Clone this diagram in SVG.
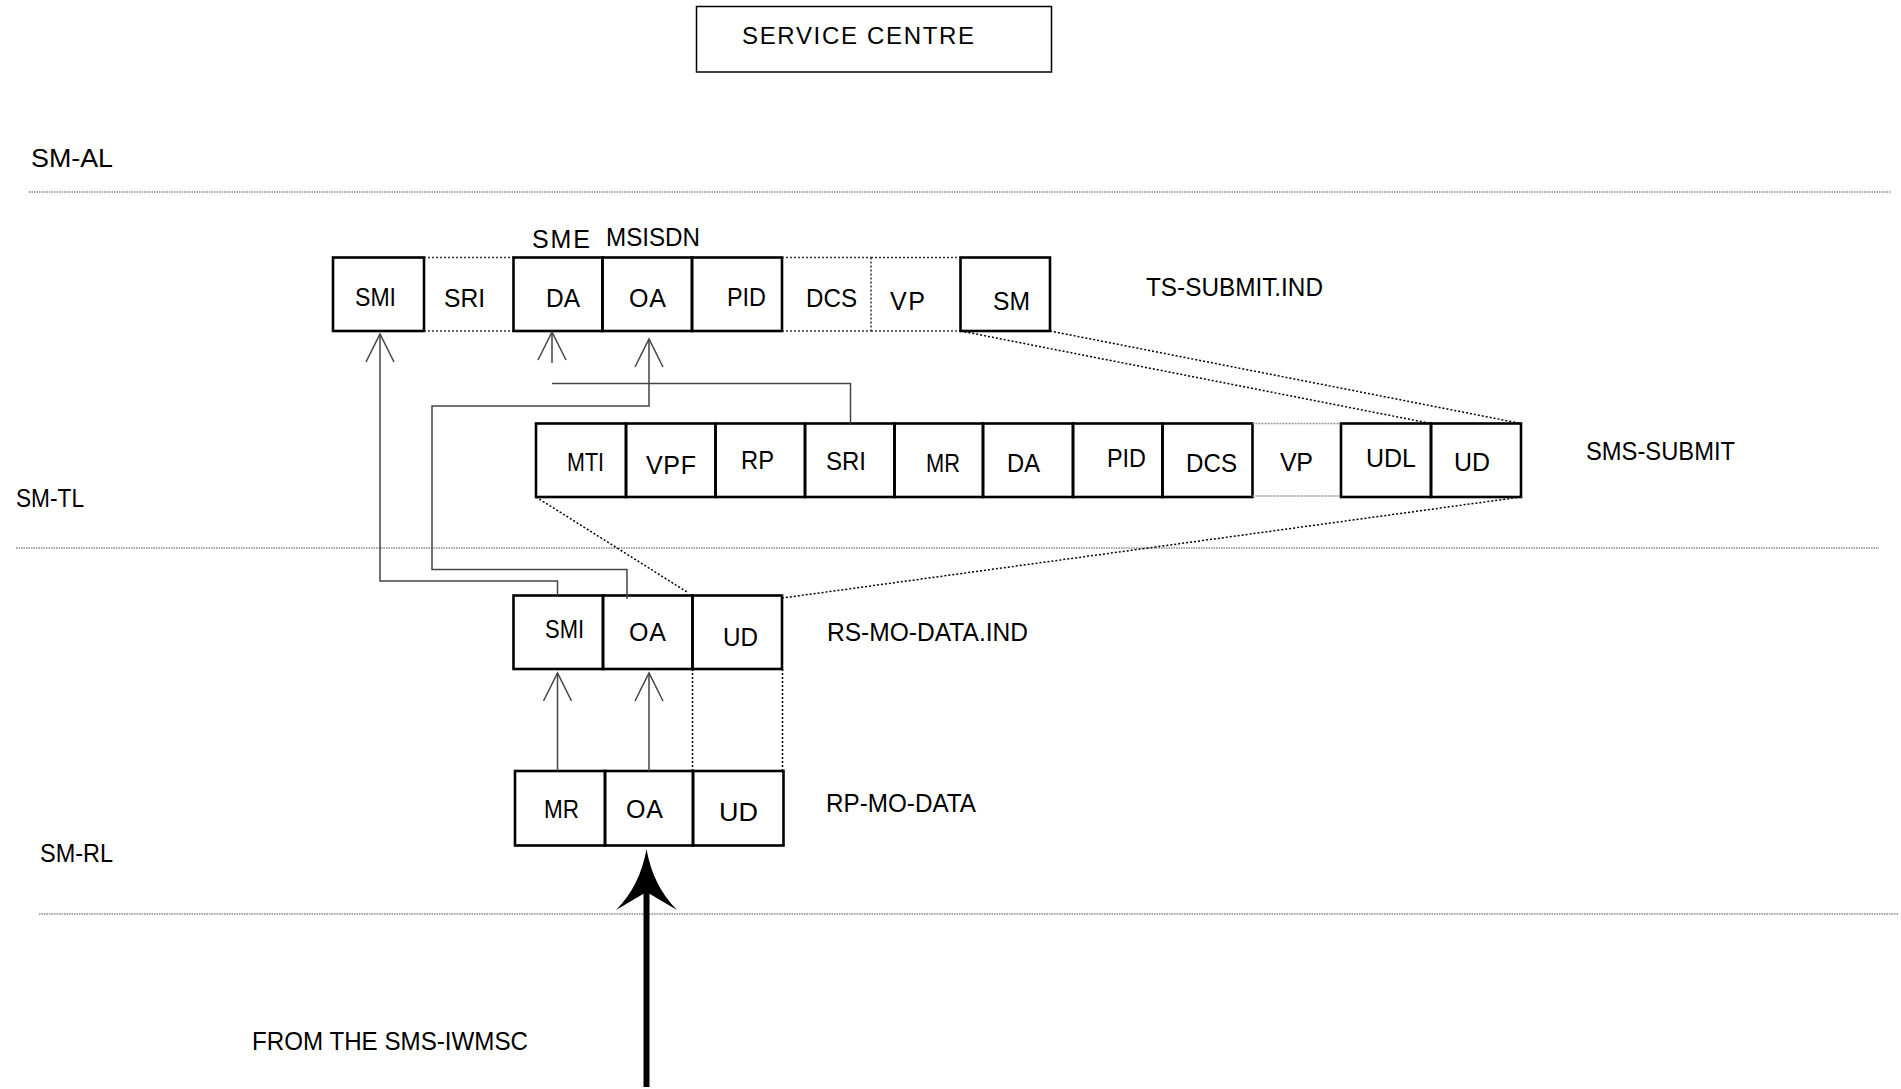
<svg xmlns="http://www.w3.org/2000/svg" xmlns:xlink="http://www.w3.org/1999/xlink" width="1901" height="1089" viewBox="0 0 1901 1089">
<style>
  text { font-family: "Liberation Sans", Arial, sans-serif; font-size: 25px; fill: #000; }
  .sc { font-size: 24px; }
  .box { fill: none; stroke: #000; stroke-width: 2.6; }
  .dotb { fill: none; stroke: #333; stroke-width: 1.5; stroke-dasharray: 2 2; }
  .dotg { fill: none; stroke: #999; stroke-width: 1.5; stroke-dasharray: 2 1; }
  .layer { fill: none; stroke: #888; stroke-width: 1.6; stroke-dasharray: 1.5 1; }
  .conn { fill: none; stroke: #444; stroke-width: 1.5; }
  .diag { fill: none; stroke: #000; stroke-width: 1.5; stroke-dasharray: 2 2; }
  .head { fill: none; stroke: #444; stroke-width: 1.5; }
</style>
<defs>
  <path id="vhead" d="M-14,28 L0,0 L14,28"/>
</defs>
<rect x="0" y="0" width="1901" height="1089" fill="#fff"/>

<!-- layer lines and labels -->
<g id="layers">
  <line class="layer" x1="29" y1="192" x2="1891" y2="192"/>
  <line class="layer" x1="16" y1="548" x2="1879" y2="548"/>
  <line class="layer" x1="39" y1="914" x2="1899" y2="914"/>
  <text x="31" y="167" textLength="82" lengthAdjust="spacingAndGlyphs">SM-AL</text>
  <text x="16" y="507" textLength="68" lengthAdjust="spacingAndGlyphs">SM-TL</text>
  <text x="40" y="862" textLength="73" lengthAdjust="spacingAndGlyphs">SM-RL</text>
  <text x="252" y="1050" textLength="276" lengthAdjust="spacingAndGlyphs">FROM THE SMS-IWMSC</text>
</g>

<g id="service-centre">
  <rect x="696.5" y="6.5" width="355" height="65.5" fill="none" stroke="#000" stroke-width="1.5"/>
  <text class="sc" x="742" y="44" textLength="232" lengthAdjust="spacing">SERVICE CENTRE</text>
</g>

<!-- TS-SUBMIT.IND row -->
<g id="ts-submit-ind">
  <g id="ts-smi"><rect class="box" x="333" y="257.5" width="91" height="73.5"/><text x="355" y="306" textLength="41" lengthAdjust="spacingAndGlyphs">SMI</text></g>
  <g id="ts-sri"><line class="dotb" x1="424" y1="257.5" x2="513.5" y2="257.5"/><line class="dotb" x1="424" y1="331" x2="513.5" y2="331"/><text x="444" y="307" textLength="41" lengthAdjust="spacingAndGlyphs">SRI</text></g>
  <g id="ts-da"><rect class="box" x="513.5" y="257.5" width="89" height="73.5"/><text x="546" y="306.5" textLength="34" lengthAdjust="spacingAndGlyphs">DA</text></g>
  <g id="ts-oa"><rect class="box" x="602.5" y="257.5" width="89.5" height="73.5"/><text x="629" y="307" textLength="37" lengthAdjust="spacing">OA</text></g>
  <g id="ts-pid"><rect class="box" x="692" y="257.5" width="90" height="73.5"/><text x="727" y="306" textLength="39" lengthAdjust="spacingAndGlyphs">PID</text></g>
  <g id="ts-dcs"><line class="dotb" x1="782" y1="257.5" x2="871" y2="257.5"/><line class="dotb" x1="782" y1="331" x2="871" y2="331"/><text x="806" y="307" textLength="51" lengthAdjust="spacingAndGlyphs">DCS</text></g>
  <g id="ts-vp"><line class="dotb" x1="871" y1="257.5" x2="871" y2="331"/><line class="dotb" x1="871" y1="257.5" x2="960.5" y2="257.5"/><line class="dotb" x1="871" y1="331" x2="960.5" y2="331"/><text x="890" y="310" textLength="35" lengthAdjust="spacing">VP</text></g>
  <g id="ts-sm"><rect class="box" x="960.5" y="257.5" width="89.5" height="73.5"/><text x="993" y="310" textLength="37" lengthAdjust="spacingAndGlyphs">SM</text></g>
  <text x="532" y="248" textLength="58" lengthAdjust="spacing">SME</text>
  <text x="606" y="246" textLength="94" lengthAdjust="spacingAndGlyphs">MSISDN</text>
  <text x="1146" y="296" textLength="177" lengthAdjust="spacingAndGlyphs">TS-SUBMIT.IND</text>
</g>

<!-- SMS-SUBMIT row -->
<g id="sms-submit">
  <g id="ss-mti"><rect class="box" x="536" y="423.5" width="90" height="73.5"/><text x="567" y="471" textLength="37" lengthAdjust="spacingAndGlyphs">MTI</text></g>
  <g id="ss-vpf"><rect class="box" x="626" y="423.5" width="89.5" height="73.5"/><text x="646" y="474" textLength="50" lengthAdjust="spacing">VPF</text></g>
  <g id="ss-rp"><rect class="box" x="715.5" y="423.5" width="89.5" height="73.5"/><text x="741" y="469" textLength="33" lengthAdjust="spacingAndGlyphs">RP</text></g>
  <g id="ss-sri"><rect class="box" x="805" y="423.5" width="89.5" height="73.5"/><text x="826" y="470" textLength="40" lengthAdjust="spacingAndGlyphs">SRI</text></g>
  <g id="ss-mr"><rect class="box" x="894.5" y="423.5" width="88.5" height="73.5"/><text x="926" y="472" textLength="34" lengthAdjust="spacingAndGlyphs">MR</text></g>
  <g id="ss-da"><rect class="box" x="983" y="423.5" width="90" height="73.5"/><text x="1007" y="472" textLength="33" lengthAdjust="spacingAndGlyphs">DA</text></g>
  <g id="ss-pid"><rect class="box" x="1073" y="423.5" width="89.5" height="73.5"/><text x="1107" y="467" textLength="39" lengthAdjust="spacingAndGlyphs">PID</text></g>
  <g id="ss-dcs"><rect class="box" x="1162.5" y="423.5" width="90" height="73.5"/><text x="1186" y="472" textLength="51" lengthAdjust="spacingAndGlyphs">DCS</text></g>
  <g id="ss-vp"><line class="dotg" x1="1252.5" y1="423.5" x2="1341" y2="423.5"/><line class="dotg" x1="1252.5" y1="496" x2="1341" y2="496"/><text x="1280" y="471" textLength="33" lengthAdjust="spacing">VP</text></g>
  <g id="ss-udl"><rect class="box" x="1341" y="423.5" width="90" height="73.5"/><text x="1366" y="467" textLength="50" lengthAdjust="spacingAndGlyphs">UDL</text></g>
  <g id="ss-ud"><rect class="box" x="1431" y="423.5" width="90" height="73.5"/><text x="1454" y="471" textLength="36" lengthAdjust="spacingAndGlyphs">UD</text></g>
  <text x="1586" y="460" textLength="149" lengthAdjust="spacingAndGlyphs">SMS-SUBMIT</text>
</g>

<!-- RS-MO-DATA.IND row -->
<g id="rs-mo-data-ind">
  <g id="rs-smi"><rect class="box" x="513.5" y="595.5" width="89.5" height="73.5"/><text x="545" y="638" textLength="39" lengthAdjust="spacingAndGlyphs">SMI</text></g>
  <g id="rs-oa"><rect class="box" x="603" y="595.5" width="89.5" height="73.5"/><text x="629" y="641" textLength="37" lengthAdjust="spacing">OA</text></g>
  <g id="rs-ud"><rect class="box" x="692.5" y="595.5" width="89.5" height="73.5"/><text x="723" y="646" textLength="35" lengthAdjust="spacingAndGlyphs">UD</text></g>
  <text x="827" y="641" textLength="201" lengthAdjust="spacingAndGlyphs">RS-MO-DATA.IND</text>
</g>

<!-- RP-MO-DATA row -->
<g id="rp-mo-data">
  <g id="rp-mr"><rect class="box" x="515" y="771" width="90" height="74.5"/><text x="544" y="818" textLength="35" lengthAdjust="spacingAndGlyphs">MR</text></g>
  <g id="rp-oa"><rect class="box" x="605" y="771" width="88" height="74.5"/><text x="626" y="818" textLength="37" lengthAdjust="spacing">OA</text></g>
  <g id="rp-ud"><rect class="box" x="693" y="771" width="90.5" height="74.5"/><text x="719" y="821" textLength="39" lengthAdjust="spacingAndGlyphs">UD</text></g>
  <text x="826" y="812" textLength="150" lengthAdjust="spacingAndGlyphs">RP-MO-DATA</text>
</g>

<!-- connectors -->
<g id="connectors">
  <!-- dotted mapping lines -->
  <line class="diag" x1="960.5" y1="331" x2="1431" y2="423.5"/>
  <line class="diag" x1="1050" y1="331" x2="1521" y2="423.5"/>
  <line class="diag" x1="536" y1="497" x2="687" y2="592"/>
  <line class="diag" x1="1521" y1="497" x2="782.5" y2="598"/>
  <line class="diag" x1="692.5" y1="669" x2="692.5" y2="771"/>
  <line class="diag" x1="782.5" y1="669" x2="782.5" y2="771"/>

  <!-- SMI: RS-MO-DATA.IND -> TS-SUBMIT.IND -->
  <polyline class="conn" points="557.5,595.5 557.5,581 380,581 380,334"/>
  <use xlink:href="#vhead" class="head" transform="translate(380,334)"/>
  <!-- OA: RS-MO-DATA.IND -> TS-SUBMIT.IND OA -->
  <polyline class="conn" points="627,599 627,569.5 432,569.5 432,406 649,406 649,339"/>
  <use xlink:href="#vhead" class="head" transform="translate(649,339)"/>
  <!-- SRI in SMS-SUBMIT -> DA in TS-SUBMIT.IND -->
  <polyline class="conn" points="850.5,423.5 850.5,383.5 552,383.5"/>
  <line class="conn" x1="552" y1="332" x2="552" y2="363"/>
  <use xlink:href="#vhead" class="head" transform="translate(552,332)"/>
  <!-- RP-MO-DATA -> RS-MO-DATA.IND -->
  <line class="conn" x1="557.5" y1="673" x2="557.5" y2="771"/>
  <use xlink:href="#vhead" class="head" transform="translate(557.5,673)"/>
  <line class="conn" x1="649" y1="673" x2="649" y2="771"/>
  <use xlink:href="#vhead" class="head" transform="translate(649,673)"/>

  <!-- big incoming arrow -->
  <rect x="643.5" y="885" width="6" height="202" fill="#000"/>
  <path d="M646.5,849 Q640,886 616,910 L646.5,892 L677,910 Q653,886 646.5,849 Z" fill="#000"/>
</g>
</svg>
